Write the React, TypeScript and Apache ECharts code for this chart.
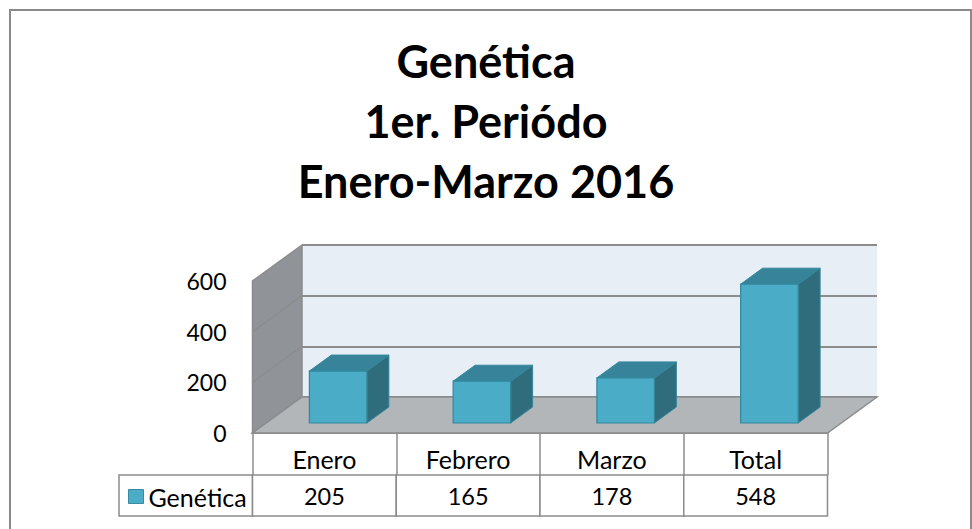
import React, { useEffect, useRef } from "react";
import * as echarts from "echarts";

// ---- data ----
const titleLines = ["Genética", "1er. Periódo", "Enero-Marzo 2016"];
const categories = ["Enero", "Febrero", "Marzo", "Total"];
const seriesName = "Genética";
const values = [205, 165, 178, 548];
const yMin = 0;
const yMax = 600;
const yInterval = 200;

// ---- styling / layout constants ----
const FONT = "Lato, 'Noto Sans', sans-serif";
const DX = -49.5; // depth offset (back wall -> front plane)
const DY = 36;
const FRONT = 0.722; // bar front face depth fraction
const BACK = 0.278; // bar back face depth fraction
const GRID_LINE = "#8c8c8c";
const BAR_FRONT = "#4aacc6";
const BAR_TOP = "#37849a";
const BAR_SIDE = "#2f6d7c";
const BAR_EDGE = "#33879d";

export default function App() {
  const ref = useRef<HTMLDivElement>(null);

  useEffect(() => {
    if (!ref.current) return;
    const chart = echarts.init(ref.current, undefined, { renderer: "svg" });

    const backGrid = { left: 302, top: 245, width: 575, height: 152 };
    const frontGrid = {
      left: backGrid.left + DX,
      top: backGrid.top + DY,
      width: backGrid.width,
      height: backGrid.height,
    };

    const option: any = {
      animation: false,
      color: [BAR_FRONT],
      textStyle: { fontFamily: FONT },
      title: {
        text: titleLines.join("\n"),
        left: "center",
        top: 31,
        padding: 0,
        textStyle: {
          fontFamily: FONT,
          fontSize: 45,
          fontWeight: "bold",
          lineHeight: 60,
          color: "#000",
        },
      },
      legend: {
        data: [{ name: seriesName, icon: "rect" }],
        left: 128,
        top: 484,
        padding: 0,
        itemWidth: 15,
        itemHeight: 14,
        itemGap: 0,
        selectedMode: false,
        itemStyle: { borderColor: "#3a8aa0", borderWidth: 1 },
        textStyle: { fontFamily: FONT, fontSize: 25, color: "#000", padding: [0, 0, 0, 0] },
      },
      grid: [
        {
          ...backGrid,
          show: true,
          backgroundColor: "#e8eef5",
          borderWidth: 0,
        },
        { ...frontGrid, show: false },
      ],
      xAxis: [
        { gridIndex: 0, type: "category", data: categories, show: false },
        {
          gridIndex: 1,
          type: "category",
          data: categories,
          boundaryGap: true,
          axisLine: { show: true, lineStyle: { color: GRID_LINE, width: 2 } },
          axisTick: { show: true, interval: 0, length: 42, lineStyle: { color: GRID_LINE, width: 1.5 } },
          axisLabel: { interval: 0, margin: 13, fontSize: 25, color: "#000", fontFamily: FONT },
        },
      ],
      yAxis: [
        {
          gridIndex: 0,
          type: "value",
          min: yMin,
          max: yMax,
          interval: yInterval,
          axisLine: { show: false },
          axisTick: { show: false },
          axisLabel: { show: false },
          splitLine: { show: true, lineStyle: { color: GRID_LINE, width: 2 } },
        },
        {
          gridIndex: 1,
          type: "value",
          min: yMin,
          max: yMax,
          interval: yInterval,
          axisLine: { show: false },
          axisTick: { show: false },
          splitLine: { show: false },
          axisLabel: { margin: 26, fontSize: 23, color: "#000", fontFamily: FONT },
        },
      ],
      graphic: [
        {
          type: "rect",
          silent: true,
          shape: { x: 10, y: 10, width: 961, height: 600 },
          style: { fill: "none", stroke: "#8a8a8a", lineWidth: 2 },
          z: 0,
        },
        {
          type: "rect",
          silent: true,
          shape: { x: 119, y: 475, width: frontGrid.left - 119, height: 41 },
          style: { fill: "#fff", stroke: GRID_LINE, lineWidth: 1.5 },
          z: 0,
        },
      ],
      series: [
        {
          name: "walls",
          type: "custom",
          xAxisIndex: 0,
          yAxisIndex: 0,
          z: 1,
          silent: true,
          data: [[0, 0]],
          renderItem: (params: any, api: any) => {
            const cs = params.coordSys;
            const x = cs.x, y = cs.y, w = cs.width, h = cs.height;
            const children: any[] = [];
            children.push({
              type: "polygon",
              shape: { points: [[x, y], [x + DX, y + DY], [x + DX, y + h + DY], [x, y + h]] },
              style: { fill: "#909398", stroke: GRID_LINE, lineWidth: 1.5 },
            });
            children.push({
              type: "polygon",
              shape: { points: [[x, y + h], [x + w, y + h], [x + w + DX, y + h + DY], [x + DX, y + h + DY]] },
              style: { fill: "#b3b6b9", stroke: GRID_LINE, lineWidth: 1.5 },
            });
            for (let t = yMin + yInterval; t < yMax; t += yInterval) {
              const yb = api.coord([0, t])[1];
              children.push({
                type: "line",
                shape: { x1: x, y1: yb, x2: x + DX, y2: yb + DY },
                style: { stroke: GRID_LINE, lineWidth: 1.5 },
              });
            }
            return { type: "group", children };
          },
        },
        {
          name: seriesName,
          type: "custom",
          xAxisIndex: 0,
          yAxisIndex: 0,
          z: 3,
          itemStyle: { color: BAR_FRONT },
          encode: { x: 0, y: 1 },
          data: values.map((v, i) => [i, v]),
          renderItem: (params: any, api: any) => {
            const i = api.value(0);
            const v = api.value(1);
            const base = api.coord([i, 0]);
            const top = api.coord([i, v]);
            const bw = api.size([1, 0])[0] * 0.4;
            const fx = base[0] + DX * FRONT;
            const fy0 = base[1] + DY * FRONT;
            const fy1 = top[1] + DY * FRONT;
            const ddx = -DX * (FRONT - BACK);
            const ddy = -DY * (FRONT - BACK);
            const l = fx - bw / 2;
            const r = fx + bw / 2;
            return {
              type: "group",
              children: [
                {
                  type: "polygon",
                  shape: { points: [[r, fy1], [r + ddx, fy1 + ddy], [r + ddx, fy0 + ddy], [r, fy0]] },
                  style: { fill: BAR_SIDE, stroke: BAR_EDGE, lineWidth: 1 },
                },
                {
                  type: "polygon",
                  shape: { points: [[l, fy1], [r, fy1], [r + ddx, fy1 + ddy], [l + ddx, fy1 + ddy]] },
                  style: { fill: BAR_TOP, stroke: BAR_EDGE, lineWidth: 1 },
                },
                {
                  type: "rect",
                  shape: { x: l, y: fy1, width: bw, height: fy0 - fy1 },
                  style: { fill: BAR_FRONT, stroke: BAR_EDGE, lineWidth: 1.2 },
                },
              ],
            };
          },
        },
        {
          name: "tabla",
          type: "custom",
          xAxisIndex: 1,
          yAxisIndex: 1,
          z: 2,
          silent: true,
          encode: { x: 0, y: 1 },
          data: values.map((v, i) => [i, v]),
          renderItem: (params: any, api: any) => {
            const i = api.value(0);
            const v = api.value(1);
            const c = api.coord([i, 0]);
            const w = api.size([1, 0])[0];
            const y0 = c[1] + 42;
            return {
              type: "group",
              children: [
                {
                  type: "rect",
                  shape: { x: c[0] - w / 2, y: y0, width: w, height: 41 },
                  style: { fill: "#fff", stroke: GRID_LINE, lineWidth: 1.5 },
                },
                {
                  type: "text",
                  style: {
                    text: String(v),
                    x: c[0],
                    y: y0 + 21,
                    align: "center",
                    verticalAlign: "middle",
                    fontSize: 23.5,
                    fontFamily: FONT,
                    fill: "#000",
                  },
                },
              ],
            };
          },
        },
      ],
    };

    chart.setOption(option);
    return () => chart.dispose();
  }, []);

  return (
    <div
      ref={ref}
      style={{ position: "fixed", left: 0, top: 0, width: 972, height: 529, background: "#fff" }}
    />
  );
}
